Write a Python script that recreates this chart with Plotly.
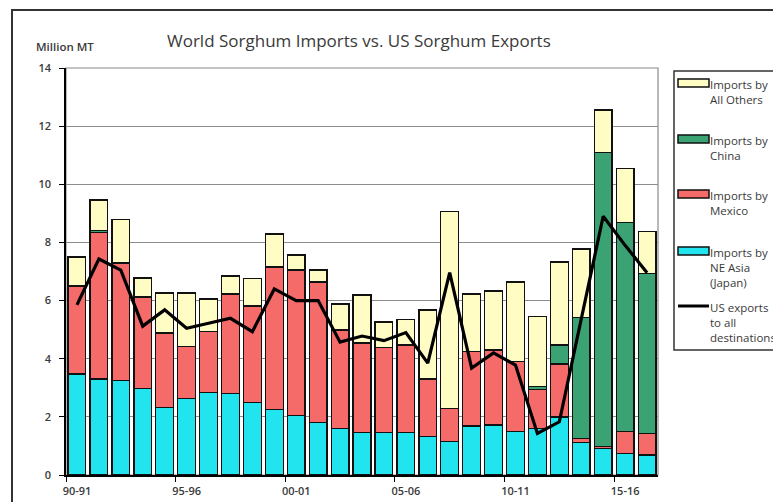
import plotly.graph_objects as go

# Marketing years 90-91 .. 16-17
years = [f"{y % 100:02d}-{(y + 1) % 100:02d}" for y in range(1990, 2017)]

# Million MT, stacked segments
imports_japan = [3.47, 3.30, 3.25, 2.97, 2.32, 2.63, 2.83, 2.81, 2.49, 2.26, 2.04, 1.80, 1.60, 1.47,
                 1.46, 1.46, 1.32, 1.15, 1.69, 1.72, 1.49, 1.60, 2.00, 1.11, 0.92, 0.75, 0.69]
imports_mexico = [3.03, 5.03, 4.04, 3.15, 2.56, 1.78, 2.10, 3.42, 3.32, 4.89, 5.01, 4.84, 3.39, 3.07,
                  2.92, 3.01, 1.98, 1.14, 2.55, 2.58, 2.41, 1.35, 1.82, 0.15, 0.05, 0.74, 0.74]
imports_china = [0, 0.07, 0, 0, 0, 0, 0, 0, 0, 0, 0, 0, 0, 0,
                 0, 0, 0, 0, 0, 0, 0, 0.09, 0.65, 4.15, 10.13, 7.19, 5.51]
imports_others = [1.00, 1.06, 1.51, 0.66, 1.38, 1.85, 1.12, 0.62, 0.95, 1.14, 0.52, 0.41, 0.89, 1.65,
                  0.88, 0.89, 2.38, 6.77, 1.99, 2.03, 2.74, 2.41, 2.86, 2.36, 1.46, 1.86, 1.43]
us_exports = [5.85, 7.43, 7.05, 5.12, 5.68, 5.05, 5.22, 5.39, 4.93, 6.40, 6.00, 6.00, 4.57, 4.78,
              4.62, 4.90, 3.85, 6.96, 3.68, 4.20, 3.78, 1.43, 1.83, 5.35, 8.90, 7.90, 6.96]

tick_years = years[::5]

COLORS = {
    "others": "#FFFDC4",
    "china": "#3BA274",
    "mexico": "#F56B69",
    "japan": "#22E4EF",
}
FONT = "Open Sans"
TEXT = "#3a3a3a"

# the page body has an 8px margin, so everything is laid out 8px up/left
OFF = 8
W, H = 781 - OFF, 502 - OFF
L, R, T, B = 66, 658, 68, 475  # plot area, in reference pixels


def px(x):
    return (x - L) / (R - L)


def py(y):
    return (B - y) / (B - T)


xs = list(range(len(years)))

fig = go.Figure()

for name, vals, key in [
    ("Imports by NE Asia (Japan)", imports_japan, "japan"),
    ("Imports by Mexico", imports_mexico, "mexico"),
    ("Imports by China", imports_china, "china"),
    ("Imports by All Others", imports_others, "others"),
]:
    fig.add_trace(go.Bar(
        x=xs, y=vals, name=name,
        marker=dict(color=COLORS[key], line=dict(color="#111111", width=1.3)),
        showlegend=False,
    ))

fig.add_trace(go.Scatter(
    x=xs, y=us_exports, mode="lines", name="US exports to all destinations",
    line=dict(color="#000000", width=3.2), showlegend=False,
))

shapes = []
annotations = []

# outer chart border
shapes.append(dict(type="rect", xref="paper", yref="paper",
                   x0=px(12), x1=px(800), y0=py(10), y1=py(520),
                   line=dict(color="#333333", width=2), layer="below"))
# plot frame (grey)
shapes.append(dict(type="rect", xref="paper", yref="paper",
                   x0=0, x1=1, y0=0, y1=1,
                   line=dict(color="#8a8a8a", width=1.2), layer="below"))

# legend box
shapes.append(dict(type="rect", xref="paper", yref="paper",
                   x0=px(674), x1=px(800), y0=py(71), y1=py(350),
                   line=dict(color="#333333", width=1.5)))

legend_items = [
    ("Imports by<br>All Others", COLORS["others"], 83),
    ("Imports by<br>China", COLORS["china"], 139),
    ("Imports by<br>Mexico", COLORS["mexico"], 194),
    ("Imports by<br>NE Asia<br>(Japan)", COLORS["japan"], 251),
    ("US exports<br>to all<br>destinations", None, 306),
]
for label, color, yc in legend_items:
    if color:
        shapes.append(dict(type="rect", xref="paper", yref="paper",
                           x0=px(678), x1=px(709), y0=py(yc - 4), y1=py(yc + 4),
                           fillcolor=color, line=dict(color="#111111", width=1.5)))
    else:
        shapes.append(dict(type="line", xref="paper", yref="paper",
                           x0=px(678), x1=px(709), y0=py(yc), y1=py(yc),
                           line=dict(color="#000000", width=3)))
    annotations.append(dict(text=label, xref="paper", yref="paper",
                            x=px(708), y=py(yc - 8.5), xanchor="left", yanchor="top",
                            align="left", showarrow=False,
                            font=dict(family=FONT, size=11.5, color=TEXT)))

# title and unit label
annotations.append(dict(text="World Sorghum Imports vs. US Sorghum Exports",
                        xref="paper", yref="paper", x=px(359), y=py(40),
                        xanchor="center", yanchor="middle", showarrow=False,
                        font=dict(family=FONT, size=17, color=TEXT)))
annotations.append(dict(text="Million MT", xref="paper", yref="paper",
                        x=px(34), y=py(47), xanchor="left", yanchor="middle",
                        showarrow=False,
                        font=dict(family=FONT, size=11.5, color=TEXT, weight=600)))

fig.update_layout(
    width=W, height=H,
    margin=dict(l=L - OFF, r=W - (R - OFF), t=T - OFF, b=H - (B - OFF), autoexpand=False),
    paper_bgcolor="white", plot_bgcolor="white",
    barmode="stack", bargap=0.19,
    showlegend=False,
    shapes=shapes, annotations=annotations,
    xaxis=dict(
        range=[-0.5, len(years) - 0.5],
        tickmode="array",
        tickvals=[i - 0.5 for i in range(0, len(years), 5)],
        ticktext=tick_years,
        ticklabelshift=11,
        ticks="outside", ticklen=5, tickcolor="#000000", tickwidth=1.2,
        showgrid=False, zeroline=False,
        showline=True, linecolor="#000000", linewidth=1.5,
        tickfont=dict(family=FONT, size=11, color=TEXT, weight=600),
        fixedrange=True,
    ),
    yaxis=dict(
        range=[0, 14], dtick=2, tick0=0,
        ticks="outside", ticklen=5, tickcolor="#000000", tickwidth=1.2,
        showgrid=True, gridcolor="#8c8c8c", gridwidth=1.2,
        zeroline=False,
        showline=True, linecolor="#000000", linewidth=1.5,
        tickfont=dict(family=FONT, size=11, color=TEXT, weight=600),
        ticklabelstandoff=6,
        fixedrange=True,
    ),
)

fig.write_html("out.html")
